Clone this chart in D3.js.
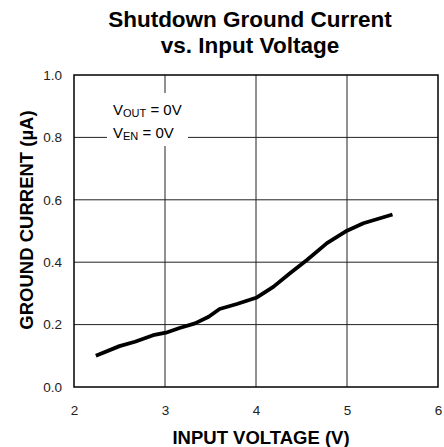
<!DOCTYPE html>
<html>
<head>
<meta charset="utf-8">
<script src="https://cdn.jsdelivr.net/npm/d3@7"></script>
<style>
body { margin: 0; background: #fff; }
text { font-family: "Liberation Sans", Arial, sans-serif; }
</style>
</head>
<body>
<div id="chart"></div>
<script>
// data
var voltage = [2.24, 2.50, 2.67, 2.87, 3.01, 3.16, 3.33, 3.48, 3.60, 3.79, 4.01, 4.19, 4.37, 4.56, 4.78, 5.00, 5.18, 5.50];
var current = [0.100, 0.131, 0.145, 0.166, 0.174, 0.189, 0.204, 0.225, 0.250, 0.266, 0.287, 0.321, 0.364, 0.407, 0.461, 0.501, 0.525, 0.553];
var xTicks = [2, 3, 4, 5, 6];
var yTicks = [0, 0.2, 0.4, 0.6, 0.8, 1.0];

var width = 444;
var height = 447;
var margin = { left: 74, right: 6, top: 75, bottom: 60 };

var svg = d3.select('#chart')
    .append('svg')
    .attr('width', width)
    .attr('height', height);

var x = d3.scaleLinear().domain([2, 6]).range([margin.left, width - margin.right]);
var y = d3.scaleLinear().domain([0, 1]).range([height - margin.bottom, margin.top]);

// title
svg.append('text')
    .attr('x', 250).attr('y', 27)
    .attr('text-anchor', 'middle')
    .attr('font-size', 22.5).attr('font-weight', 'bold')
    .text('Shutdown Ground Current');
svg.append('text')
    .attr('x', 250).attr('y', 53)
    .attr('text-anchor', 'middle')
    .attr('font-size', 22.5).attr('font-weight', 'bold')
    .text('vs. Input Voltage');

// grid
var grid = svg.append('g').attr('stroke', '#222').attr('stroke-width', 1);
grid.selectAll('line.v')
    .data(xTicks.slice(1, -1))
    .enter().append('line')
    .attr('x1', d => x(d)).attr('x2', d => x(d))
    .attr('y1', y(0)).attr('y2', y(1));
grid.selectAll('line.h')
    .data(yTicks.slice(1, -1))
    .enter().append('line')
    .attr('x1', x(2)).attr('x2', x(6))
    .attr('y1', d => y(d)).attr('y2', d => y(d));

// annotation box covering grid
svg.append('rect')
    .attr('x', 107).attr('y', 93)
    .attr('width', 81).attr('height', 53)
    .attr('fill', '#fff');

var ann = svg.append('g').attr('font-size', 15).attr('fill', '#000');
var t1 = ann.append('text').attr('x', 113).attr('y', 115);
t1.append('tspan').text('V');
t1.append('tspan').attr('font-size', 11).attr('dy', 2).text('OUT');
t1.append('tspan').attr('dy', -2).text(' = 0V');
var t2 = ann.append('text').attr('x', 113).attr('y', 138);
t2.append('tspan').text('V');
t2.append('tspan').attr('font-size', 11).attr('dy', 2).text('EN');
t2.append('tspan').attr('dy', -2).text(' = 0V');

// border
svg.append('rect')
    .attr('x', x(2)).attr('y', y(1))
    .attr('width', x(6) - x(2)).attr('height', y(0) - y(1))
    .attr('fill', 'none').attr('stroke', '#000').attr('stroke-width', 1.5);

// axes labels
var xAxis = svg.append('g')
    .attr('transform', 'translate(0,' + y(0) + ')')
    .call(d3.axisBottom(x).tickValues(xTicks).tickSize(0).tickFormat(d3.format('d')));
xAxis.select('.domain').remove();
xAxis.selectAll('text')
    .attr('y', 28).attr('dy', null)
    .attr('font-size', 13.5).attr('fill', '#222')
    .style('font-family', '"Liberation Sans", Arial, sans-serif');

var yAxis = svg.append('g')
    .attr('transform', 'translate(' + (x(2) - 9) + ',0)')
    .call(d3.axisLeft(y).tickValues(yTicks).tickSize(0).tickFormat(d3.format('.1f')));
yAxis.select('.domain').remove();
yAxis.selectAll('text').attr('font-size', 13.5).attr('fill', '#222')
    .style('font-family', '"Liberation Sans", Arial, sans-serif');

svg.append('text')
    .attr('x', 261).attr('y', 444)
    .attr('text-anchor', 'middle')
    .attr('font-size', 18.5).attr('font-weight', 'bold')
    .text('INPUT VOLTAGE (V)');

svg.append('text')
    .attr('transform', 'translate(33,220) rotate(-90)')
    .attr('text-anchor', 'middle')
    .attr('font-size', 18.5).attr('font-weight', 'bold')
    .text('GROUND CURRENT (\u00b5A)');

// curve
var pts = voltage.map((v, i) => [v, current[i]]);
svg.append('path')
    .datum(pts)
    .attr('fill', 'none')
    .attr('stroke', '#000')
    .attr('stroke-width', 3.8)
    .attr('stroke-linejoin', 'round')
    .attr('d', d3.line().x(d => x(d[0])).y(d => y(d[1])));
</script>
</body>
</html>
